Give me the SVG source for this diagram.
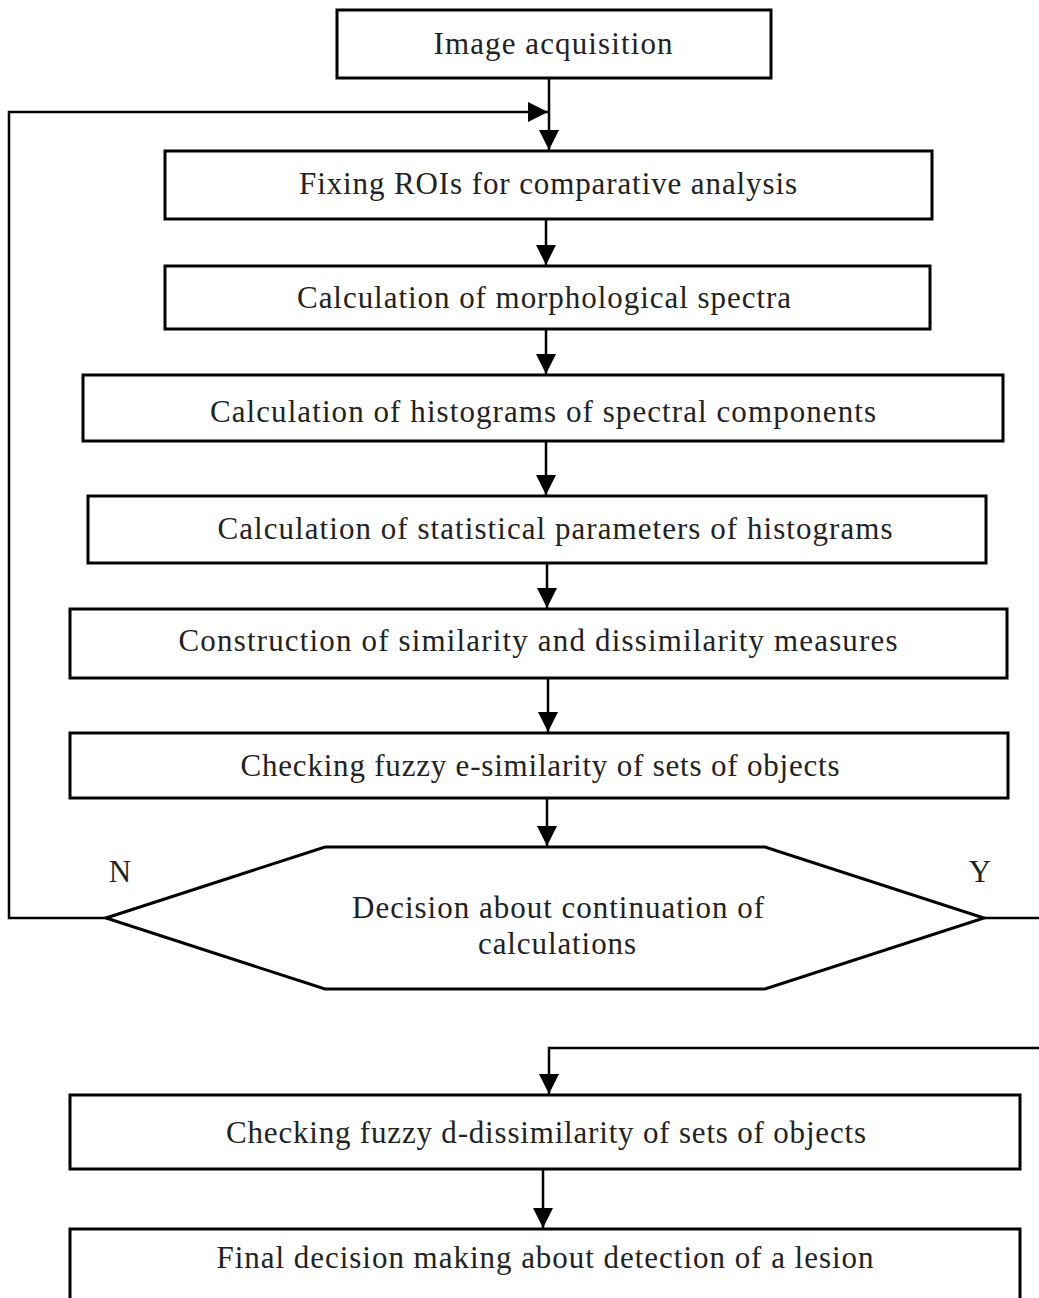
<svg xmlns="http://www.w3.org/2000/svg" width="1039" height="1298" viewBox="0 0 1039 1298">
<style>
.box{fill:#fff;stroke:#000;stroke-width:3}
.ln{fill:none;stroke:#000;stroke-width:2.5}
.t{font-family:"Liberation Serif","Times New Roman",serif;font-size:31px;fill:#222;text-anchor:middle}
</style>
<defs>
<marker id="ah" markerUnits="userSpaceOnUse" markerWidth="20" markerHeight="20" refX="20" refY="10" orient="auto">
<path d="M0,0 L20,10 L0,20 z" fill="#000"/>
</marker>
</defs>
<rect width="1039" height="1298" fill="#fff"/>
<g id="connectors">
<line class="ln" x1="549" y1="79" x2="549" y2="150" marker-end="url(#ah)"/>
<polyline class="ln" points="107,918 9,918 9,112 548,112" marker-end="url(#ah)"/>
<line class="ln" x1="546" y1="219" x2="546" y2="265" marker-end="url(#ah)"/>
<line class="ln" x1="546" y1="329" x2="546" y2="374" marker-end="url(#ah)"/>
<line class="ln" x1="546" y1="441" x2="546" y2="495" marker-end="url(#ah)"/>
<line class="ln" x1="547" y1="563" x2="547" y2="608" marker-end="url(#ah)"/>
<line class="ln" x1="548" y1="678" x2="548" y2="732" marker-end="url(#ah)"/>
<line class="ln" x1="547" y1="798" x2="547" y2="846" marker-end="url(#ah)"/>
<line class="ln" x1="984" y1="918" x2="1039" y2="918"/>
<polyline class="ln" points="1039,1048 549,1048 549,1094" marker-end="url(#ah)"/>
<line class="ln" x1="543" y1="1169" x2="543" y2="1228" marker-end="url(#ah)"/>
<text class="t" x="120" y="882">N</text>
<text class="t" x="980" y="882">Y</text>
</g>
<g id="n1"><rect class="box" x="337" y="10" width="434" height="68"/><text class="t" x="553" y="54" textLength="239">Image acquisition</text></g>
<g id="n2"><rect class="box" x="165" y="151" width="767" height="68"/><text class="t" x="548" y="194" textLength="498">Fixing ROIs for comparative analysis</text></g>
<g id="n3"><rect class="box" x="165" y="266" width="765" height="63"/><text class="t" x="544" y="308" textLength="494">Calculation of morphological spectra</text></g>
<g id="n4"><rect class="box" x="83" y="375" width="920" height="66"/><text class="t" x="543" y="422" textLength="666">Calculation of histograms of spectral components</text></g>
<g id="n5"><rect class="box" x="88" y="496" width="898" height="67"/><text class="t" x="555" y="539" textLength="675">Calculation of statistical parameters of histograms</text></g>
<g id="n6"><rect class="box" x="70" y="609" width="937" height="69"/><text class="t" x="538" y="651" textLength="719">Construction of similarity and dissimilarity measures</text></g>
<g id="n7"><rect class="box" x="70" y="733" width="938" height="65"/><text class="t" x="540" y="776" textLength="599">Checking fuzzy e-similarity of sets of objects</text></g>
<g id="n8"><polygon class="box" points="106,918 325,847 765,847 984,918 765,989 325,989"/><text class="t" x="558" y="918" textLength="412">Decision about continuation of</text><text class="t" x="557" y="954" textLength="158">calculations</text></g>
<g id="n9"><rect class="box" x="70" y="1095" width="950" height="74"/><text class="t" x="546" y="1143" textLength="640">Checking fuzzy d-dissimilarity of sets of objects</text></g>
<g id="n10"><rect class="box" x="70" y="1229" width="950" height="90"/><text class="t" x="545" y="1268" textLength="657">Final decision making about detection of a lesion</text></g>
</svg>
